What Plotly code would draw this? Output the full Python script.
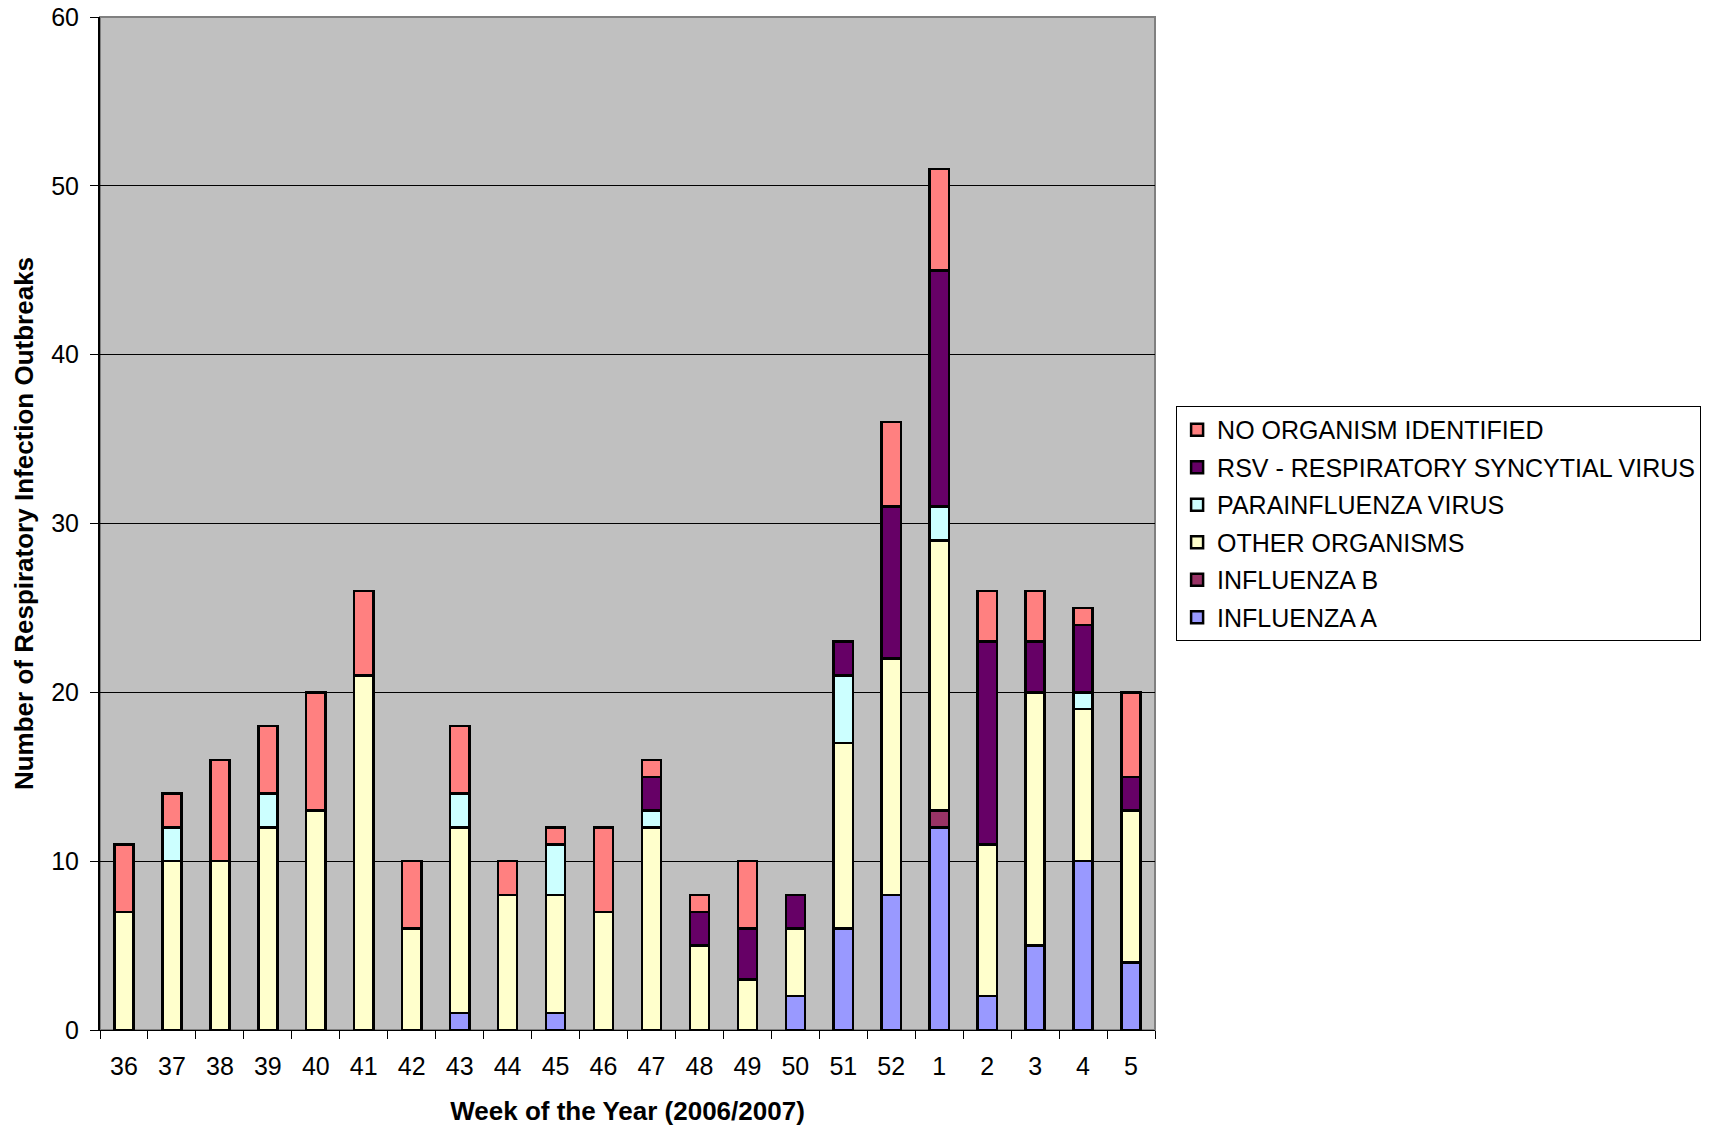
import plotly.graph_objects as go

# weeks of the 2006/2007 season
weeks = ["36", "37", "38", "39", "40", "41", "42", "43", "44", "45", "46",
         "47", "48", "49", "50", "51", "52", "1", "2", "3", "4", "5"]

influenza_a = [0, 0, 0, 0, 0, 0, 0, 1, 0, 1, 0, 0, 0, 0, 2, 6, 8, 12, 2, 5, 10, 4]
influenza_b = [0, 0, 0, 0, 0, 0, 0, 0, 0, 0, 0, 0, 0, 0, 0, 0, 0, 1, 0, 0, 0, 0]
other_orgs = [7, 10, 10, 12, 13, 21, 6, 11, 8, 7, 7, 12, 5, 3, 4, 11, 14, 16, 9, 15, 9, 9]
parainfluenza = [0, 2, 0, 2, 0, 0, 0, 2, 0, 3, 0, 1, 0, 0, 0, 4, 0, 2, 0, 0, 1, 0]
rsv = [0, 0, 0, 0, 0, 0, 0, 0, 0, 0, 0, 2, 2, 3, 2, 2, 9, 14, 12, 3, 4, 2]
no_organism = [4, 2, 6, 4, 7, 5, 4, 4, 2, 1, 5, 1, 1, 4, 0, 0, 5, 6, 3, 3, 1, 5]

series = [
    ("INFLUENZA A", influenza_a, "#9999FF"),
    ("INFLUENZA B", influenza_b, "#993366"),
    ("OTHER ORGANISMS", other_orgs, "#FFFFCC"),
    ("PARAINFLUENZA VIRUS", parainfluenza, "#CCFFFF"),
    ("RSV - RESPIRATORY SYNCYTIAL VIRUS", rsv, "#660066"),
    ("NO ORGANISM IDENTIFIED", no_organism, "#FF8080"),
]

fig = go.Figure()
for i, (name, vals, col) in enumerate(series):
    # one legend group per trace so tracegroupgap spaces the rows a little,
    # rank puts the top of the stack first in the legend
    fig.add_trace(go.Bar(x=weeks, y=vals, name=name, legendgroup=name,
                         legendrank=len(series) - i,
                         marker=dict(color=col, line=dict(color="black", width=2.5))))

fig.update_layout(
    width=1713, height=1126,
    barmode="stack", bargap=0.6,
    plot_bgcolor="#C0C0C0", paper_bgcolor="white",
    margin=dict(l=100, r=558, t=17, b=96),
    font=dict(family="Liberation Sans, Arial, sans-serif", size=25, color="black"),
    legend=dict(x=1.02, y=0.616, xanchor="left", yanchor="top",
                traceorder="grouped", tracegroupgap=2,
                bordercolor="black", borderwidth=1,
                bgcolor="white", font=dict(size=25), itemwidth=30),
    showlegend=True,
)

fig.update_xaxes(
    type="category", tickson="boundaries", ticks="outside", ticklen=8,
    tickcolor="black", tickwidth=1, showline=True, linecolor="black", linewidth=1,
    showgrid=False, automargin=False, ticklabelstandoff=14,
    title=dict(text="<b>Week of the Year (2006/2007)</b>", font=dict(size=26), standoff=25),
)
fig.update_yaxes(
    range=[0, 60], dtick=10, ticks="outside", ticklen=8, tickcolor="black",
    showline=True, linecolor="black", linewidth=2, automargin=False,
    ticklabelstandoff=6,
    showgrid=True, gridcolor="black", gridwidth=1, zeroline=False,
    title=dict(text="<b>Number of Respiratory Infection Outbreaks</b>", font=dict(size=26), standoff=10),
)

# grey frame on the top and right of the plot area
fig.add_shape(type="rect", xref="paper", yref="paper", x0=0, x1=1, y0=0, y1=1,
              line=dict(color="#808080", width=2), layer="below")

# page margin off so the figure fills the window exactly
fig.write_html("out.html", config={"displayModeBar": False},
               post_script="document.body.style.margin = '0';")
